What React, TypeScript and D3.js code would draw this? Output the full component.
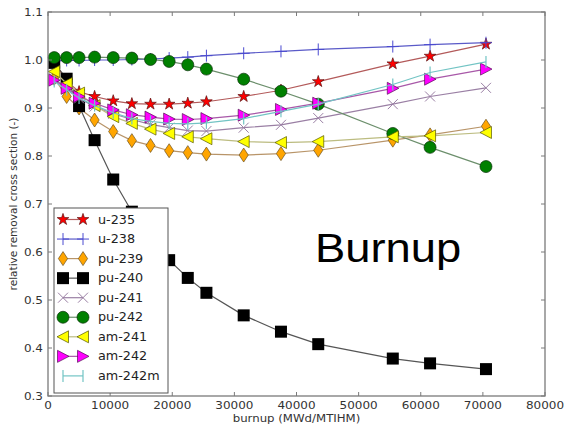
import React from "react";
import * as d3 from "d3";

const burnup = [1000, 3000, 5000, 7500, 10500, 13500, 16500, 19500, 22500, 25500, 31500, 37500, 43500, 55500, 61500, 70500];

const u235 = [0.996, 0.956, 0.934, 0.924, 0.915, 0.909, 0.908, 0.908, 0.910, 0.913, 0.924, 0.937, 0.955, 0.992, 1.008, 1.033];
const u238 = [0.998, 0.999, 0.999, 1.000, 1.000, 1.001, 1.002, 1.004, 1.006, 1.009, 1.014, 1.018, 1.022, 1.028, 1.032, 1.036];
const pu239 = [0.962, 0.924, 0.900, 0.875, 0.851, 0.832, 0.822, 0.811, 0.807, 0.804, 0.802, 0.805, 0.812, 0.833, 0.844, 0.862];
const pu240 = [0.994, 0.961, 0.904, 0.833, 0.751, 0.684, 0.630, 0.583, 0.546, 0.515, 0.468, 0.434, 0.408, 0.378, 0.368, 0.356];
const pu241 = [0.962, 0.940, 0.920, 0.903, 0.888, 0.876, 0.866, 0.859, 0.853, 0.852, 0.859, 0.865, 0.879, 0.908, 0.924, 0.942];
const pu242 = [1.005, 1.005, 1.005, 1.006, 1.005, 1.004, 1.001, 0.997, 0.990, 0.981, 0.960, 0.935, 0.908, 0.847, 0.818, 0.778];
const am241 = [0.976, 0.951, 0.931, 0.905, 0.882, 0.868, 0.856, 0.847, 0.840, 0.836, 0.830, 0.828, 0.830, 0.840, 0.842, 0.849];
const am242 = [0.958, 0.941, 0.924, 0.910, 0.896, 0.886, 0.881, 0.877, 0.876, 0.878, 0.885, 0.897, 0.910, 0.941, 0.960, 0.981];
const am242m = [0.955, 0.938, 0.921, 0.905, 0.890, 0.878, 0.872, 0.868, 0.867, 0.869, 0.878, 0.893, 0.908, 0.949, 0.974, 0.996];

const seriesNames = ["u-235", "u-238", "pu-239", "pu-240", "pu-241", "pu-242", "am-241", "am-242", "am-242m"];
const seriesValues = [u235, u238, pu239, pu240, pu241, pu242, am241, am242, am242m];

const xTicks = [0, 10000, 20000, 30000, 40000, 50000, 60000, 70000, 80000];
const yTicks = [0.3, 0.4, 0.5, 0.6, 0.7, 0.8, 0.9, 1.0, 1.1];

const xLabel = "burnup (MWd/MTIHM)";
const yLabel = "relative removal cross section (-)";
const title = "Burnup";

type Style = { line: string; marker: string; fill: string; stroke: string };
const styles: Style[] = [
  { line: "#b35a5a", marker: "star", fill: "#ff0000", stroke: "#5a1010" },
  { line: "#5a5ac8", marker: "plus", fill: "none", stroke: "#4a4ad0" },
  { line: "#b89468", marker: "diamond", fill: "#ffa500", stroke: "#6a5020" },
  { line: "#555555", marker: "square", fill: "#000000", stroke: "#000000" },
  { line: "#9a7fa4", marker: "x", fill: "none", stroke: "#9a7fa4" },
  { line: "#6c8f6c", marker: "circle", fill: "#008000", stroke: "#0a300a" },
  { line: "#bcbc80", marker: "tleft", fill: "#ffff00", stroke: "#555500" },
  { line: "#a858a8", marker: "tright", fill: "#ff00ff", stroke: "#551055" },
  { line: "#72c4c4", marker: "vline", fill: "none", stroke: "#72c4c4" },
];

const W = 564;
const H = 428;
const left = 48, right = 545, top = 12, bottom = 396;
const SX = 1.12; // horizontal stretch of the original picture's text

function Marker({ kind, x, y, s }: { kind: string; x: number; y: number; s: Style }) {
  const t = `translate(${x},${y})`;
  switch (kind) {
    case "star":
      return <path transform={t} d={d3.symbol(d3.symbolStar, 42)() as string} fill={s.fill} stroke={s.stroke} strokeWidth={0.7} />;
    case "plus":
      return <path transform={t} d="M-6,0H6M0,-6V6" stroke={s.stroke} strokeWidth={1} fill="none" />;
    case "diamond":
      return <path transform={t} d="M0,-7L4.6,0L0,7L-4.6,0Z" fill={s.fill} stroke={s.stroke} strokeWidth={0.7} />;
    case "square":
      return <rect x={x - 6} y={y - 6} width={12} height={12} fill={s.fill} />;
    case "x":
      return <path transform={t} d="M-5,-5L5,5M-5,5L5,-5" stroke={s.stroke} strokeWidth={1} fill="none" />;
    case "circle":
      return <circle cx={x} cy={y} r={6} fill={s.fill} stroke={s.stroke} strokeWidth={0.7} />;
    case "tleft":
      return <path transform={t} d="M-6,0L5.5,-6L5.5,6Z" fill={s.fill} stroke={s.stroke} strokeWidth={0.7} />;
    case "tright":
      return <path transform={t} d="M6,0L-5.5,-6L-5.5,6Z" fill={s.fill} stroke={s.stroke} strokeWidth={0.7} />;
    case "vline":
      return <path transform={t} d="M0,-6V6" stroke={s.stroke} strokeWidth={1.2} fill="none" />;
  }
  return null;
}

function SText({ x, y, anchor, size, fill, family, children, dy }: any) {
  return (
    <text
      transform={`translate(${x},${y}) scale(${SX},1)`}
      textAnchor={anchor || "start"}
      fontSize={size}
      fontFamily={family}
      fill={fill}
      dy={dy}
    >
      {children}
    </text>
  );
}

export default function App() {
  const x = d3.scaleLinear().domain([0, 80000]).range([left, right]);
  const y = d3.scaleLinear().domain([0.3, 1.1]).range([bottom, top]);
  const line = d3
    .line<number>()
    .x((_, i) => x(burnup[i]))
    .y((d) => y(d));

  const font = "'DejaVu Sans', sans-serif";
  const legX = 54, legY = 208, legW = 114, legH = 185;
  const rowY = (i: number) => 219.5 + i * 19.55;

  return (
    <svg width={W} height={H} style={{ position: "absolute", left: 0, top: 0, background: "#fff" }}>
      <rect x={0} y={0} width={W} height={H} fill="#fff" />
      {seriesValues.map((vals, si) => (
        <g key={seriesNames[si]}>
          <path d={line(vals) as string} fill="none" stroke={styles[si].line} strokeWidth={1.2} />
          {vals.map((v, i) => (
            <Marker key={i} kind={styles[si].marker} x={x(burnup[i])} y={y(v)} s={styles[si]} />
          ))}
        </g>
      ))}
      <rect x={left} y={top} width={right - left} height={bottom - top} fill="none" stroke="#7a7a7a" strokeWidth={1.3} />
      {xTicks.map((t) => (
        <g key={"x" + t}>
          <line x1={x(t)} x2={x(t)} y1={bottom} y2={bottom - 4} stroke="#7a7a7a" />
          <line x1={x(t)} x2={x(t)} y1={top} y2={top + 4} stroke="#7a7a7a" />
          <SText x={x(t)} y={bottom + 12.5} anchor="middle" size={10.7} family={font} fill="#333">
            {t}
          </SText>
        </g>
      ))}
      {yTicks.map((t) => (
        <g key={"y" + t}>
          <line x1={left} x2={left + 4} y1={y(t)} y2={y(t)} stroke="#7a7a7a" />
          <line x1={right} x2={right - 4} y1={y(t)} y2={y(t)} stroke="#7a7a7a" />
          <SText x={left - 5} y={y(t)} dy="0.35em" anchor="end" size={10.7} family={font} fill="#333">
            {t.toFixed(1)}
          </SText>
        </g>
      ))}
      <SText x={(left + right) / 2} y={422} anchor="middle" size={10.5} family={font} fill="#333">
        {xLabel}
      </SText>
      <text
        transform={`translate(16.5,${(top + bottom) / 2}) rotate(-90)`}
        textAnchor="middle"
        fontSize={10.5}
        fontFamily={font}
        fill="#333"
      >
        {yLabel}
      </text>
      <rect x={legX} y={legY} width={legW} height={legH} fill="#fff" stroke="#555" strokeWidth={1} />
      {seriesNames.map((n, i) => (
        <g key={"leg" + n}>
          <line x1={63} x2={83} y1={rowY(i)} y2={rowY(i)} stroke={styles[i].line} strokeWidth={1.2} />
          <Marker kind={styles[i].marker} x={63} y={rowY(i)} s={styles[i]} />
          <Marker kind={styles[i].marker} x={83} y={rowY(i)} s={styles[i]} />
          <SText x={98} y={rowY(i)} dy="0.35em" size={11.4} family={font} fill="#222">
            {n}
          </SText>
        </g>
      ))}
      <SText x={315} y={261.5} size={40.5} family="'Liberation Sans', Arial, sans-serif" fill="#000">
        {title}
      </SText>
    </svg>
  );
}
